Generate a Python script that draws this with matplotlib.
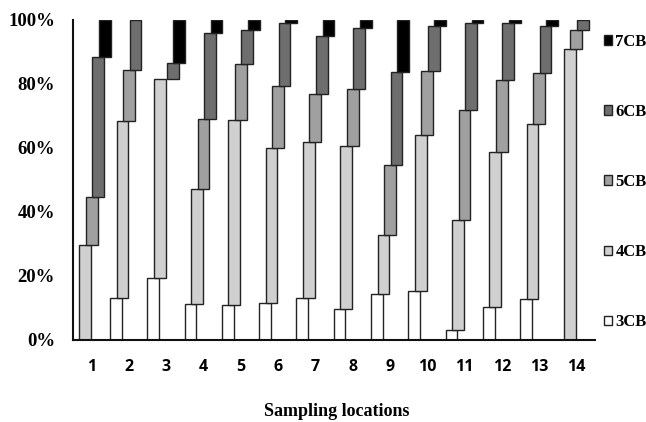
import matplotlib
matplotlib.use("Agg")
import matplotlib.pyplot as plt
import numpy as np
from matplotlib.patches import Patch

locations = [str(i) for i in range(1, 15)]
series_names = ["3CB", "4CB", "5CB", "6CB", "7CB"]
cb3 = [0.0, 13.0, 19.1, 11.1, 10.8, 11.3, 13.0, 9.4, 14.2, 15.3, 2.9, 10.2, 12.6, 0.0]
cb4 = [29.5, 55.4, 62.4, 36.1, 57.9, 48.7, 48.9, 51.2, 18.5, 48.7, 34.5, 48.6, 55.0, 90.9]
cb5 = [15.2, 15.9, 0.0, 21.8, 17.4, 19.4, 14.8, 17.7, 21.8, 20.0, 34.4, 22.4, 15.9, 6.0]
cb6 = [43.8, 15.7, 5.1, 26.8, 10.8, 19.6, 18.3, 19.1, 29.3, 14.1, 27.2, 17.8, 14.6, 3.1]
cb7 = [11.5, 0.0, 13.4, 4.2, 3.1, 1.0, 5.0, 2.6, 16.2, 1.9, 1.0, 1.0, 1.9, 0.0]
yticklabels = ["0%", "20%", "40%", "60%", "80%", "100%"]

colors = ["#ffffff", "#d0d0d0", "#a0a0a0", "#6e6e6e", "#000000"]

fig = plt.figure(figsize=(6.46, 4.22), dpi=100)
ax = fig.add_axes([73/646, 1-339.5/422, 522/646, 319.5/422])

data = [cb3, cb4, cb5, cb6, cb7]
x = np.arange(len(locations))
step = 0.175
width = 0.315
bottom = np.zeros(len(locations))
for k, (vals, col) in enumerate(zip(data, colors)):
    vals = np.array(vals)
    mask = vals > 0
    ax.bar(x[mask] + (k - 2) * step, vals[mask], width=width, bottom=bottom[mask],
           color=col, edgecolor="#222222", linewidth=1.0, zorder=2)
    bottom = bottom + vals

ax.set_xlim(-0.5, len(locations) - 0.5)
ax.set_ylim(0, 100)
ax.set_yticks(np.arange(0, 101, 20))
ax.set_yticklabels(yticklabels, fontfamily="Liberation Serif", fontweight="bold", fontsize=13.5)
ax.set_xticks(x)
ax.set_xticklabels(locations, fontfamily="Open Sans", fontweight="bold", fontsize=11.5)
ax.tick_params(axis="y", length=0, pad=13)
ax.tick_params(axis="x", length=0, pad=14)
for s in ["top", "right"]:
    ax.spines[s].set_visible(False)
ax.spines["left"].set_linewidth(1.5)
ax.spines["bottom"].set_linewidth(1.5)
ax.spines["left"].set_color("#111111")
ax.spines["bottom"].set_color("#111111")

fig.text(337/646, 1-411/422, "Sampling locations", ha="center", va="center",
         fontfamily="Liberation Serif", fontweight="bold", fontsize=13)

handles = [Patch(facecolor=c, edgecolor="#222222", linewidth=1.0, label=n)
           for n, c in zip(series_names, colors)][::-1]
leg = fig.legend(handles=handles, loc="center left", bbox_to_anchor=(597/646, 1-182/422),
                 frameon=False, handlelength=0.5, handleheight=0.5, handletextpad=0.2,
                 labelspacing=3.25, borderaxespad=0,
                 prop={"family": "Liberation Serif", "weight": "bold", "size": 12})

fig.savefig("out.png", dpi=100)
